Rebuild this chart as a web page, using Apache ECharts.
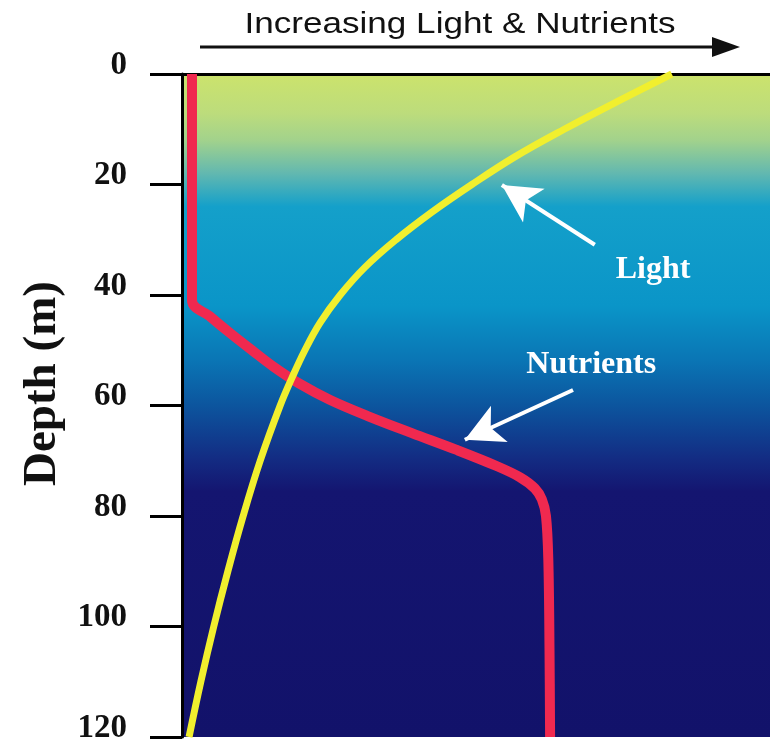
<!DOCTYPE html>
<html><head><meta charset="utf-8">
<script src="https://cdn.jsdelivr.net/npm/echarts@6/dist/echarts.min.js"></script>
<style>html,body{margin:0;padding:0;background:#fff}#c{width:770px;height:740px}</style>
</head><body><div id="c"></div>
<script>
// ---- data ----
const depthTicks = [0, 20, 40, 60, 80, 100, 120];
const seriesNames = ['Nutrients', 'Light'];
const lightDepth = [0, 5, 10, 15, 20, 25, 30, 35, 40, 45, 50, 55, 60, 70, 80, 90, 100, 110, 120];
const lightValue = [83.3, 74.0, 65.0, 56.6, 49.3, 42.5, 36.4, 31.1, 26.9, 23.5, 20.9, 18.7, 16.7, 13.3, 10.4, 7.8, 5.4, 3.2, 1.2];
const nutrientDepth = [0, 41, 44, 47, 50, 53, 56, 59, 62, 65, 68, 71, 73, 75, 77, 80, 88, 104, 120];
const nutrientValue = [1.7, 1.7, 4.9, 8.3, 11.9, 15.6, 19.9, 25.2, 31.8, 39.1, 46.6, 53.6, 57.5, 60.0, 61.2, 61.9, 62.3, 62.5, 62.6];
const titleText = 'Increasing Light & Nutrients';
const yAxisName = 'Depth (m)';
// annotation anchors in data units [value, depth]
const lightArrow = [[70.2, 30.9], [54.4, 20.1]];
const nutrientArrow = [[66.5, 57.2], [48.1, 66.2]];
const lightLabelAt = [80.1, 35.4];
const nutrientLabelAt = [69.6, 52.6];

const serif = '"Liberation Serif", "Times New Roman", serif';
const chart = echarts.init(document.getElementById('c'), null, {renderer: 'canvas'});

const waterGradient = new echarts.graphic.LinearGradient(0, 0, 0, 1, [
  {offset: 0.00, color: '#CCE36C'},
  {offset: 0.06, color: '#BCDC7C'},
  {offset: 0.10, color: '#A2D28C'},
  {offset: 0.15, color: '#62B8B0'},
  {offset: 0.20, color: '#14A0CA'},
  {offset: 0.35, color: '#0A95C8'},
  {offset: 0.43, color: '#0A76B5'},
  {offset: 0.50, color: '#0C559E'},
  {offset: 0.58, color: '#132C83'},
  {offset: 0.63, color: '#141570'},
  {offset: 1.00, color: '#12126A'}
]);

const arrowLine = (pair) => ({
  silent: true,
  symbol: ['none', 'arrow'],
  symbolSize: [30, 38],
  lineStyle: {color: '#FFFFFF', width: 4, type: 'solid', opacity: 1},
  label: {show: false},
  emphasis: {disabled: true},
  data: [[{coord: pair[0]}, {coord: pair[1]}]]
});
const textPoint = (name, at) => ({
  silent: true,
  symbol: 'rect',
  symbolSize: 1,
  itemStyle: {color: 'rgba(0,0,0,0)'},
  label: {show: true, position: 'inside', formatter: name, color: '#FFFFFF',
          fontFamily: serif, fontWeight: 'bold', fontSize: 32},
  data: [{name: name, coord: at}]
});

chart.setOption({
  animation: false,
  backgroundColor: '#FFFFFF',
  grid: {left: 182, right: 0, top: 74, bottom: 3, show: true, borderWidth: 0,
         backgroundColor: waterGradient, outerBoundsMode: 'none'},
  xAxis: {
    type: 'value', position: 'top', min: 0, max: 100,
    axisLine: {show: true, onZero: false, lineStyle: {color: '#000', width: 3}},
    axisTick: {show: false}, axisLabel: {show: false}, splitLine: {show: false}
  },
  yAxis: {
    type: 'value', inverse: true, min: depthTicks[0], max: depthTicks[depthTicks.length - 1],
    interval: depthTicks[1] - depthTicks[0],
    axisLine: {show: true, onZero: false, lineStyle: {color: '#000', width: 3}},
    axisTick: {show: true, inside: false, length: 32, lineStyle: {color: '#000', width: 3}},
    axisLabel: {margin: 55, fontFamily: serif, fontWeight: 'bold', fontSize: 33, color: '#111',
                verticalAlign: 'bottom', lineHeight: 18},
    splitLine: {show: false},
    name: yAxisName, nameLocation: 'middle', nameRotate: 90, nameGap: 112,
    nameTextStyle: {fontFamily: serif, fontWeight: 'bold', fontSize: 47, color: '#111',
                    padding: [0, 0, 0, 44]}
  },
  series: [
    {
      name: seriesNames[0], type: 'line', smooth: 0.35, symbol: 'none', z: 2,
      lineStyle: {color: '#F0294F', width: 10},
      data: nutrientDepth.map((d, i) => [nutrientValue[i], d]),
      markLine: arrowLine(nutrientArrow),
      markPoint: textPoint('Nutrients', nutrientLabelAt)
    },
    {
      name: seriesNames[1], type: 'line', smooth: 0.4, symbol: 'none', z: 3,
      lineStyle: {color: '#F1EF2E', width: 7},
      data: lightDepth.map((d, i) => [lightValue[i], d]),
      markLine: arrowLine(lightArrow),
      markPoint: textPoint('Light', lightLabelAt)
    }
  ],
  graphic: [
    {type: 'text', x: 460, y: 25, scaleX: 1.17, silent: true,
     style: {text: titleText, font: '30px "Liberation Sans", Arial, sans-serif', fill: '#111',
             textAlign: 'center', textVerticalAlign: 'middle'}},
    {type: 'line', silent: true, shape: {x1: 200, y1: 47, x2: 718, y2: 47},
     style: {stroke: '#111', lineWidth: 3}},
    {type: 'polygon', silent: true, shape: {points: [[712, 37], [740, 47], [712, 57]]},
     style: {fill: '#111'}}
  ]
});
</script></body></html>
